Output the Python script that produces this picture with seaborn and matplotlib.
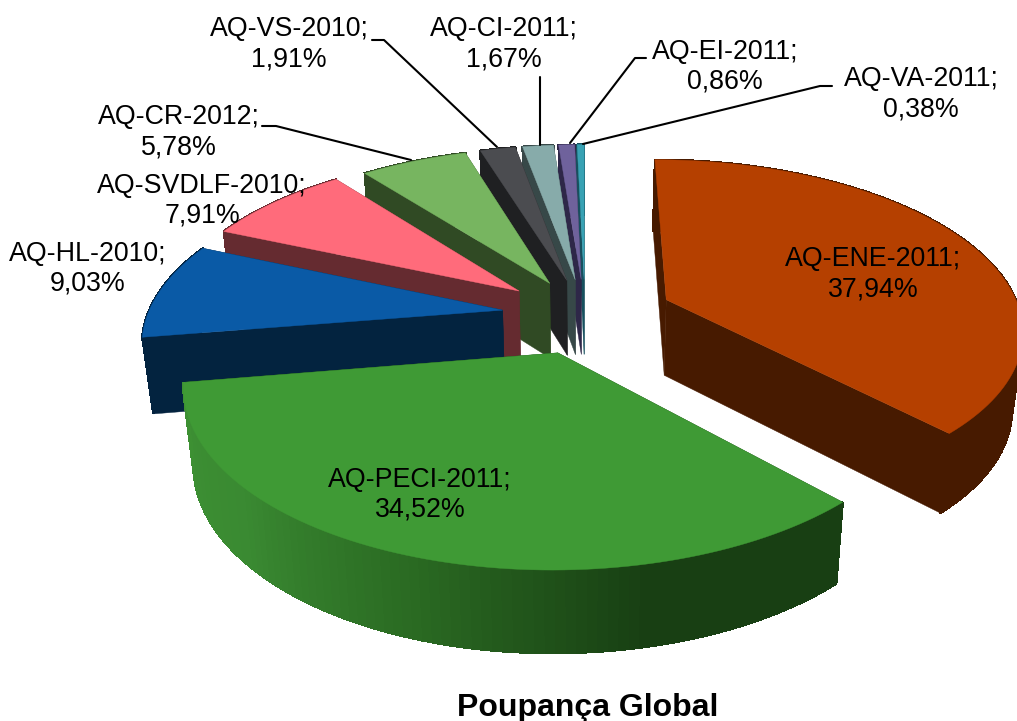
# Poupança Global - pizza 3D explodida

import numpy as np
import matplotlib
matplotlib.use('Agg')
import matplotlib.pyplot as plt
import seaborn as sns

sns.set_theme(style="white")
plt.rcParams['font.family'] = ['Liberation Sans', 'DejaVu Sans']

# dados
labels = ['AQ-ENE-2011', 'AQ-PECI-2011', 'AQ-HL-2010', 'AQ-SVDLF-2010', 'AQ-CR-2012',
          'AQ-VS-2010', 'AQ-CI-2011', 'AQ-EI-2011', 'AQ-VA-2011']
values = [37.94, 34.52, 9.03, 7.91, 5.78, 1.91, 1.67, 0.86, 0.38]
title = 'Poupança Global'

# estilo
top_colors = ['#b54000', '#3f9a35', '#0a5aa6', '#ff6b7b', '#77b560',
              '#4b4c50', '#87abaa', '#6f629c', '#38a2b4']
wall_colors = ['#471a00', '#183f13', '#03233f', '#652b30', '#304a24',
               '#1f2022', '#374848', '#2e2748', '#17505e']
explode = [0.25, 0.23, 0.235, 0.24, 0.22, 0.22, 0.22, 0.22, 0.22]
draw_order = [8, 7, 6, 5, 4, 3, 2, 0, 1]

# posicao dos textos e linhas de chamada (pixels)
label_pos = [(873, 274), (420, 495), (88, 269), (202, 201), (179, 132),
             (289, 44), (504, 44), (725, 67), (921, 94)]
leaders = {
    4: [(262, 126), (276, 126), (411, 160)],
    5: [(372, 40), (384, 40), (497, 147)],
    6: [(540, 77), (540, 145)],
    7: [(646, 58), (635, 58), (570, 143)],
    8: [(832, 86), (820, 86), (583, 144)],
}

CX, CY = 585, 315
RX, RY = 355, 167.6
PERSP = 0.164
DEPTH = 76
CONVERGE = 0.975


def project(x, y):
    """Plano da pizza -> tela, com perspectiva."""
    w = 1 + PERSP * y
    return CX + RX * x / w, CY - RY * y / w


def drop(sx, sy, y):
    """Base da parede, abaixo do ponto (sx, sy) do topo."""
    w = 1 + PERSP * y
    return CX + (sx - CX) * CONVERGE, sy + DEPTH * w ** -0.4


def draw_slice(ax, a0, a1, off, top, wall, gradient=None):
    """a0 > a1 em graus (sentido horario)."""
    mid = np.radians((a0 + a1) / 2)
    ox, oy = off * np.cos(mid), off * np.sin(mid)
    t = np.radians(np.linspace(a0, a1, 90))
    px, py = ox + np.cos(t), oy + np.sin(t)
    sx, sy = project(px, py)
    bx, by = drop(sx, sy, py)
    ax0, ay0 = project(ox, oy)
    abx, aby = drop(ax0, ay0, oy)

    # paredes de corte
    for i in (0, -1):
        ax.fill([ax0, sx[i], bx[i], abx], [ay0, sy[i], by[i], aby],
                color=wall, lw=0.3, zorder=2)
    # parede externa
    cols = gradient if gradient is not None else [wall] * (len(t) - 1)
    for i in range(len(t) - 1):
        ax.fill([sx[i], sx[i + 1], bx[i + 1], bx[i]],
                [sy[i], sy[i + 1], by[i + 1], by[i]],
                color=cols[i], lw=1, antialiased=False, zorder=2)
    # topo
    ax.fill(np.r_[ax0, sx], np.r_[ay0, sy], color=top, lw=0.3, zorder=2)


fig = plt.figure(figsize=(10.17, 7.21), dpi=100)
ax = fig.add_axes([0, 0, 1, 1])
ax.set_xlim(0, 1017)
ax.set_ylim(721, 0)
ax.axis('off')

ends = 90 - np.cumsum(values) * 3.6
starts = np.r_[90, ends[:-1]]

# parede verde com degrade da esquerda para a direita
peci_grad = sns.blend_palette(['#183f13', '#183f13', '#2a6a22', '#3a8a32', '#3d9033'], 89)

for i in draw_order:
    draw_slice(ax, starts[i], ends[i], explode[i], top_colors[i], wall_colors[i],
               gradient=peci_grad if i == 1 else None)

for i, (name, val) in enumerate(zip(labels, values)):
    x, y = label_pos[i]
    ax.text(x, y, f"{name};\n{val:.2f}%".replace('.', ','), ha='center', va='center',
            fontsize=19.3, color='black', linespacing=1.2, zorder=5)

for pts in leaders.values():
    xs, ys = zip(*pts)
    ax.plot(xs, ys, color='black', lw=1.5, zorder=4)

ax.text(588, 708, title, ha='center', va='center', fontsize=23,
        fontweight='bold', color='black', zorder=5)

fig.savefig('out.png', dpi=100)
